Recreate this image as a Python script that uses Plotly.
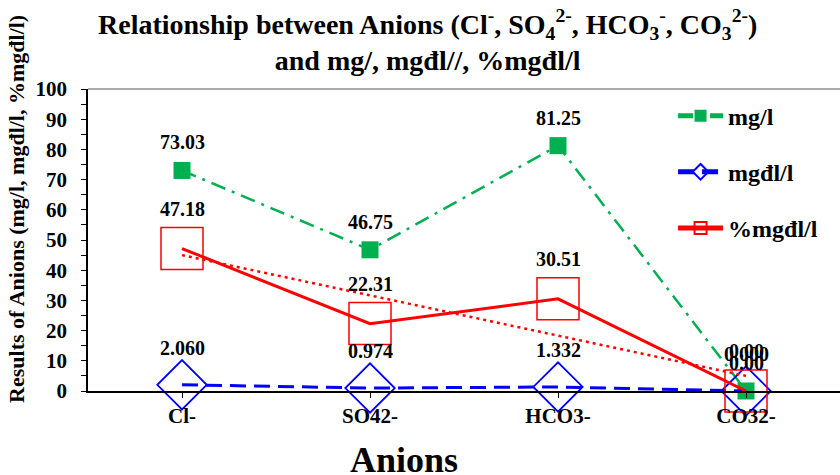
import numpy as np
import plotly.graph_objects as go

# Anion categories and measured results
anions = ["Cl-", "SO42-", "HCO3-", "CO32-"]
mg_l = [73.03, 46.75, 81.25, 0.00]
mgdl_l = [2.060, 0.974, 1.332, 0.000]
pct_mgdl_l = [47.18, 22.31, 30.51, 0.00]

x = list(range(len(anions)))

GREEN = "#00B050"
BLUE = "#0000FF"
RED = "#FF0000"
FONT = "Liberation Serif"

fig = go.Figure()

fig.add_trace(go.Scatter(
    x=x, y=mg_l, name="mg/l", mode="lines+markers", cliponaxis=False,
    line=dict(color=GREEN, width=2.5, dash="15px,7px,3px,7px"),
    marker=dict(symbol="square", size=17, color=GREEN),
    legendgroup="a",
))
fig.add_trace(go.Scatter(
    x=x, y=mgdl_l, name="mgđl/l", mode="lines+markers", cliponaxis=False,
    line=dict(color=BLUE, width=3, dash="16px,8px"),
    marker=dict(symbol="diamond-open", size=38, color=BLUE, line=dict(width=1.8, color=BLUE)),
    legendgroup="b",
))
fig.add_trace(go.Scatter(
    x=x, y=pct_mgdl_l, name="%mgđl/l", mode="lines+markers", cliponaxis=False,
    line=dict(color=RED, width=3),
    marker=dict(symbol="square-open", size=42, color=RED, line=dict(width=1.5, color=RED)),
    legendgroup="c",
))

# Linear trend of %mgđl/l
slope, intercept = np.polyfit(x, pct_mgdl_l, 1)
trend = [slope * xi + intercept for xi in x]
fig.add_trace(go.Scatter(
    x=x, y=trend, mode="lines", showlegend=False, hoverinfo="skip",
    line=dict(color=RED, width=2.5, dash="3px,4px"),
))

# Value labels above each marker
annotations = []
for series, fmt, shift in ((mg_l, "{:.2f}", 28), (pct_mgdl_l, "{:.2f}", 40), (mgdl_l, "{:.3f}", 37)):
    for xi, v in zip(x, series):
        annotations.append(dict(
            x=xi, y=v, xref="x", yref="y", text=fmt.format(v), showarrow=False,
            yshift=shift, yanchor="middle",
            font=dict(family=FONT, size=20, color="black", weight="bold"),
        ))

annotations.append(dict(
    x=0.452, y=1.0, xref="paper", yref="paper", yshift=49, yanchor="middle",
    showarrow=False, align="center",
    text=("Relationship between Anions (Cl<sup>-</sup>, SO<sub>4</sub><sup>2-</sup>, "
          "HCO<sub>3</sub><sup>-</sup>, CO<sub>3</sub><sup>2-</sup>)<br>and mg/, mgđl//, %mgđl/l"),
    font=dict(family=FONT, size=28, color="black", weight="bold"),
))
annotations.append(dict(
    x=0.420, y=-0.228, xref="paper", yref="paper", showarrow=False,
    xanchor="center", yanchor="middle", text="Anions",
    font=dict(family=FONT, size=36, color="black", weight="bold"),
))
annotations.append(dict(
    x=-0.0944, y=0.603, xref="paper", yref="paper", showarrow=False,
    xanchor="center", yanchor="middle", textangle=-90,
    text="Results of Anions (mg/l, mgđl/l, %mgđl/l)",
    font=dict(family=FONT, size=22, color="black", weight="bold"),
))

fig.update_layout(
    width=840, height=475,
    margin=dict(l=88, r=0, t=89, b=84),
    paper_bgcolor="white", plot_bgcolor="white",
    font=dict(family=FONT, color="black"),
    annotations=annotations,
    showlegend=True,
    legend=dict(
        x=0.778, y=0.985, xanchor="left", yanchor="top",
        bgcolor="rgba(0,0,0,0)", tracegroupgap=22, itemwidth=45,
        font=dict(family=FONT, size=24, color="black", weight="bold"),
        itemsizing="constant",
    ),
    shapes=[dict(type="line", xref="paper", yref="paper", x0=0, x1=1, y0=1, y1=1,
                 line=dict(color="#595959", width=1))],
)

fig.update_xaxes(
    range=[-0.5, 3.5], tickmode="array", tickvals=x, ticktext=anions,
    showline=True, linecolor="black", linewidth=2, showgrid=False, zeroline=False,
    ticks="outside", ticklen=5, tickcolor="black",
    tickfont=dict(family=FONT, size=21, color="black", weight="bold"),
)
fig.update_yaxes(
    range=[0, 100], dtick=10, showline=True, linecolor="black", linewidth=1.5,
    showgrid=False, zeroline=False, ticks="outside", ticklen=5, tickcolor="black",
    ticklabelstandoff=10,
    minor=dict(dtick=5, ticks="outside", ticklen=5, tickcolor="black"),
    tickfont=dict(family=FONT, size=21, color="black", weight="bold"),
)

fig.write_html("out.html")
